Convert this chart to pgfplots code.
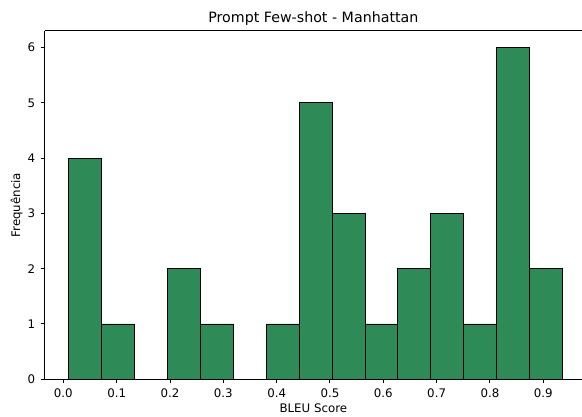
\documentclass[border=0pt]{standalone}
\usepackage{pgfplots}
\pgfplotsset{compat=1.18}
\usepackage{fontspec}
\setmainfont{DejaVu Sans}
\definecolor{seagreen}{HTML}{2E8B57}
\begin{document}
\begin{tikzpicture}
\path[use as bounding box] (-32.2pt,-27.1pt) rectangle (386.9pt,273.1pt);
\begin{axis}[
  at={(0,0)}, anchor=south west,
  scale only axis, width=386.9pt, height=250.8pt,
  xmin=-0.0349, xmax=0.9726, ymin=0, ymax=6.3,
  axis x line=box, axis y line=left, axis line style={-, line width=0.7pt},
  xtick={0,0.1,0.2,0.3,0.4,0.5,0.6,0.7,0.8,0.9},
  ytick={0,1,2,3,4,5,6},
  xticklabel style={/pgf/number format/fixed, /pgf/number format/fixed zerofill, /pgf/number format/precision=1, yshift=-0.6pt},
  yticklabel style={xshift=-0.4pt},
  xtick pos=left, ytick pos=left,
  tick align=outside, major tick length=3pt,
  every tick/.style={black, line width=0.7pt},
  /pgf/number format/assume math mode=true,
  tick label style={font=\fontsize{8.5}{10}\selectfont},
  every axis x label/.style={at={(axis description cs:0.5,0)}, anchor=north, inner sep=0pt, yshift=-17.3pt, font=\fontsize{8.5}{10}\selectfont},
  every axis y label/.style={at={(axis description cs:0,0.5)}, rotate=90, anchor=south, inner sep=0pt, yshift=15.8pt, font=\fontsize{8.5}{10}\selectfont},
  every axis title/.style={at={(axis description cs:0.5,1)}, anchor=base, inner sep=0pt, yshift=5.8pt, font=\fontsize{10.25}{12}\selectfont},
  title={Prompt Few-shot - Manhattan},
  xlabel={BLEU Score},
  ylabel={Frequência},
]
\addplot[ybar interval, fill=seagreen, draw=black, line width=0.6pt] table {
x y
0.0094 4
0.0712 1
0.1330 0
0.1948 2
0.2566 1
0.3184 0
0.3802 1
0.4420 5
0.5038 3
0.5656 1
0.6274 2
0.6892 3
0.7510 1
0.8128 6
0.8746 2
0.9364 2
};
\end{axis}
\end{tikzpicture}
\end{document}
